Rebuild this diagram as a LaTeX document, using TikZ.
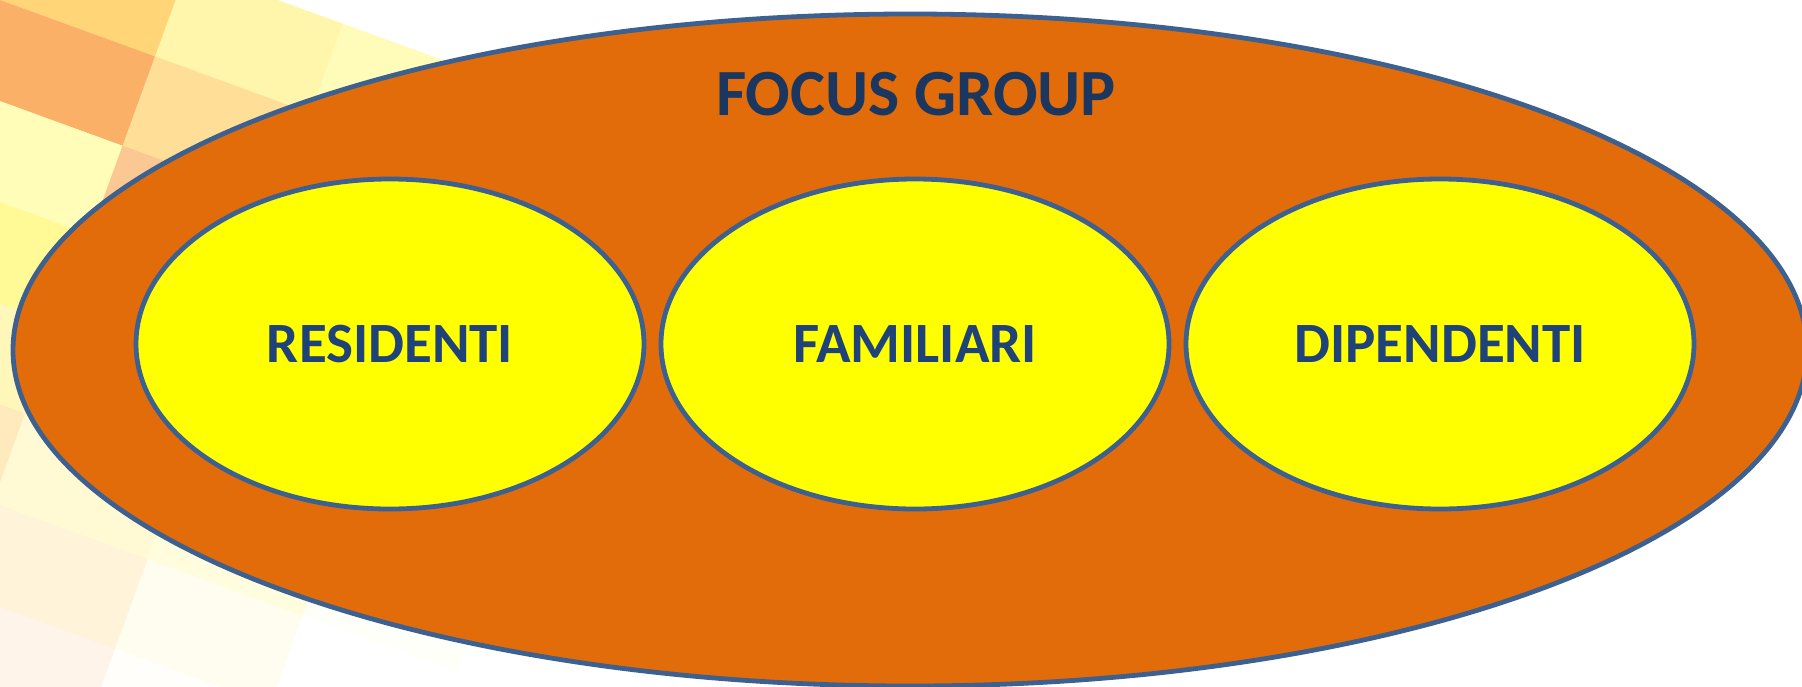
\documentclass[tikz,border=0pt]{standalone}
\usepackage{fontspec}
\setmainfont{Carlito}
\usetikzlibrary{shapes.geometric}
\definecolor{ringorange}{HTML}{E36C0A}
\definecolor{ringyellow}{HTML}{FFFF00}
\definecolor{ringline}{HTML}{3C6090}
\definecolor{labelblue}{HTML}{1F4278}
\definecolor{titleblue}{HTML}{1B375F}
\definecolor{tileA}{HTML}{F9A048}
\definecolor{tileB}{HTML}{FFF55A}
\definecolor{tileC}{HTML}{FFCC5C}
\definecolor{tileD}{HTML}{FFFCA0}
\definecolor{tileE}{HTML}{FFF07A}
\tikzset{
  outerring/.style={ellipse, draw=ringline, line width=2.4pt, fill=ringorange,
    minimum width=897pt, minimum height=336pt, inner sep=0pt},
  innerring/.style={ellipse, draw=ringline, line width=2.4pt, fill=ringyellow,
    minimum width=254pt, minimum height=165pt, inner sep=0pt,
    font=\bfseries\fontsize{28.5}{30}\selectfont, text=labelblue},
  titletext/.style={font=\bfseries\fontsize{33}{35}\selectfont, text=titleblue, inner sep=0pt}
}
\begin{document}
\begin{tikzpicture}[x=0.5pt,y=-0.5pt]
\useasboundingbox (0,0) rectangle (1802,686);
\clip (0,0) rectangle (1802,686);
% decorative mosaic background, top-left
\begin{scope}[rotate around={-20:(0,0)}]
\foreach \i in {-3,...,5}{
  \foreach \j in {-1,...,8}{
    \pgfmathtruncatemacro\k{mod(\i*2+\j*3+30,5)}
    \pgfmathsetmacro\op{max(0,0.95-veclen(\i*165+82,\j*95+47)/800)}
    \ifnum\k=0 \def\tc{tileA}\fi
    \ifnum\k=1 \def\tc{tileB}\fi
    \ifnum\k=2 \def\tc{tileC}\fi
    \ifnum\k=3 \def\tc{tileD}\fi
    \ifnum\k=4 \def\tc{tileE}\fi
    \fill[\tc, fill opacity=\op] (\i*165,\j*95) rectangle ++(165,95);
  }
}
\end{scope}
\node[outerring] (focus) at (910,350) {};
\node[titletext] (title) at (916,94) {FOCUS GROUP};
\node[innerring] (res) at (390,344) {RESIDENTI};
\node[innerring] (fam) at (915,344) {FAMILIARI};
\node[innerring] (dip) at (1440,344) {DIPENDENTI};
\end{tikzpicture}
\end{document}
